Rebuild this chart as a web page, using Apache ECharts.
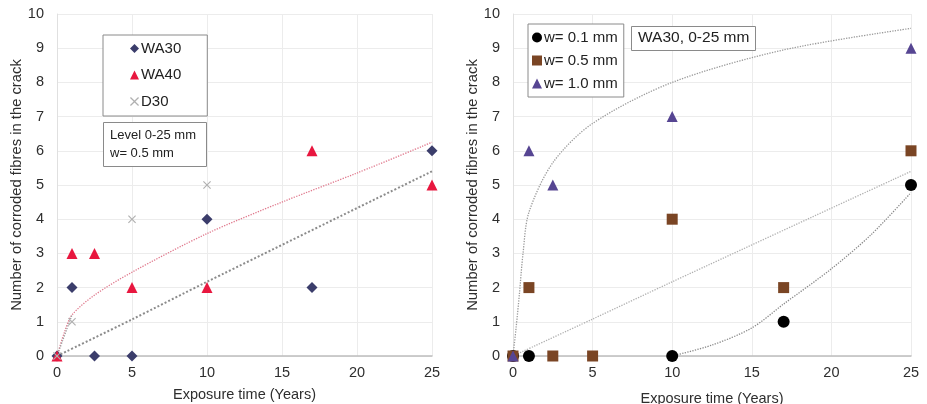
<!DOCTYPE html>
<html>
<head>
<meta charset="utf-8">
<script src="https://cdn.jsdelivr.net/npm/echarts@6/dist/echarts.min.js"></script>
<style>
  html, body { margin: 0; padding: 0; background: #fff; }
  #chart { width: 927px; height: 404px; }
</style>
</head>
<body>
<div id="chart"></div>
<script>
// Exposure years and yAxis ticks
const xTicks = [0, 5, 10, 15, 20, 25];
const yTicks = [0, 1, 2, 3, 4, 5, 6, 7, 8, 9, 10];

// Left panel: level 0-25 mm, crack width 0.5 mm
const wa30 = [[0, 0], [1, 2], [2.5, 0], [5, 0], [10, 4], [17, 2], [25, 6]];
const wa40 = [[0, 0], [1, 3], [2.5, 3], [5, 2], [10, 2], [17, 6], [25, 5]];
const d30 = [[0, 0], [1, 1], [5, 4], [10, 5]];
// Trend curves (left)
const trendWa40 = [[0, 0], [0.5, 0.7], [1, 1.2], [2.5, 1.78], [5, 2.45], [10, 3.58], [15, 4.5], [20, 5.35], [25, 6.25]];
const trendD30 = [[0, 0], [1, 1.2]];
const trendWa30 = [[0, 0], [5, 1.07], [10, 2.17], [25, 5.4]];

// Right panel: WA30, 0-25 mm, three crack widths
const w01 = [[0, 0], [1, 0], [10, 0], [17, 1], [25, 5]];
const w05 = [[0, 0], [1, 2], [2.5, 0], [5, 0], [10, 4], [17, 2], [25, 6]];
const w10 = [[0, 0], [1, 6], [2.5, 5], [10, 7], [25, 9]];
// Trend curves (right)
const trendW10 = [[0, 0], [0.2, 0.85], [0.4, 1.8], [0.63, 3.0], [1, 4.2], [2.5, 5.65], [5, 6.8], [10, 8.0], [17, 8.95], [25, 9.58]];
const trendW05 = [[0, 0], [5, 1.08], [10, 2.17], [25, 5.4]];
const trendW01 = [[10, 0], [12.5, 0.32], [15, 0.82], [17, 1.52], [20, 2.55], [22.5, 3.55], [25, 4.78]];

const FONT = '"Liberation Sans", Arial, sans-serif';
const crossPath = 'path://M1,0 L5,4 L9,0 L10,1 L6,5 L10,9 L9,10 L5,6 L1,10 L0,9 L4,5 L0,1 Z';

function xAxis(gridIndex, gap) {
  return {
    type: 'value', gridIndex, min: 0, max: 25, interval: 5,
    axisLine: { show: true, onZero: false, lineStyle: { color: '#bdbdbd', width: 1.5 } },
    axisTick: { show: false },
    axisLabel: { color: '#2e2e2e', fontFamily: FONT, fontSize: 14.5, margin: 9,
      formatter: v => xTicks.includes(v) ? String(v) : '' },
    splitLine: { show: true, lineStyle: { color: '#ececec', width: 1 } },
    name: 'Exposure time (Years)', nameLocation: 'middle', nameGap: gap,
    nameTextStyle: { color: '#2e2e2e', fontFamily: FONT, fontSize: 14.5 }
  };
}
function yAxis(gridIndex) {
  return {
    type: 'value', gridIndex, min: 0, max: 10, interval: 1,
    axisLine: { show: true, lineStyle: { color: '#e0e0e0', width: 1 } },
    axisTick: { show: false },
    axisLabel: { color: '#2e2e2e', fontFamily: FONT, fontSize: 14.5, margin: 13,
      formatter: v => yTicks.includes(v) ? String(v) : '' },
    splitLine: { show: true, lineStyle: { color: '#ececec', width: 1 } },
    name: 'Number of corroded fibres in the crack', nameLocation: 'middle', nameGap: 33,
    nameTextStyle: { color: '#2e2e2e', fontFamily: FONT, fontSize: 14.8 }
  };
}
function trend(data, xi, color, width) {
  return {
    type: 'line', xAxisIndex: xi, yAxisIndex: xi, data, smooth: 0.3,
    showSymbol: false, silent: true, z: 1,
    lineStyle: { color, width: width || 1.3, type: 'dotted' }
  };
}
function scatter(name, data, xi, symbol, size, color) {
  return {
    name, type: 'scatter', xAxisIndex: xi, yAxisIndex: xi, data,
    symbol, symbolSize: size, z: 3,
    itemStyle: { color, opacity: 1 }
  };
}

const chart = echarts.init(document.getElementById('chart'));
chart.setOption({
  animation: false,
  backgroundColor: '#ffffff',
  grid: [
    { left: 57, right: 495, top: 14, bottom: 48, outerBoundsMode: 'none', containLabel: false },
    { left: 513, right: 16, top: 14, bottom: 48, outerBoundsMode: 'none', containLabel: false }
  ],
  xAxis: [xAxis(0, 31), xAxis(1, 35)],
  yAxis: [yAxis(0), yAxis(1)],
  legend: [
    {
      data: ['WA30', 'WA40', 'D30'], orient: 'vertical',
      left: 103, top: 35,
      padding: [6, 26, 7, 27], itemGap: 11.5, itemWidth: 9, itemHeight: 9,
      backgroundColor: '#ffffff', borderColor: '#8a8a8a', borderWidth: 1, z: 10,
      textStyle: { fontFamily: FONT, fontSize: 15, color: '#222', padding: [0, 0, 0, -3] }
    },
    {
      data: ['w= 0.1 mm', 'w= 0.5 mm', 'w= 1.0 mm'], orient: 'vertical',
      left: 528, top: 24,
      padding: [6, 6, 6, 4], itemGap: 8, itemWidth: 10, itemHeight: 10,
      backgroundColor: '#ffffff', borderColor: '#8a8a8a', borderWidth: 1, z: 10,
      textStyle: { fontFamily: FONT, fontSize: 15, color: '#222', padding: [0, 0, 0, -3] }
    }
  ],
  graphic: [
    {
      type: 'rect', left: 103, top: 122, z: 100, shape: { width: 103, height: 44 },
      style: { fill: '#fff', stroke: '#8a8a8a', lineWidth: 1 }
    },
    {
      type: 'text', left: 110, top: 126, z: 101,
      style: { text: 'Level 0-25 mm\nw= 0.5 mm', fill: '#222', font: '13px ' + FONT, lineHeight: 18 }
    },
    {
      type: 'rect', left: 631, top: 26, z: 100, shape: { width: 124, height: 24 },
      style: { fill: '#fff', stroke: '#8a8a8a', lineWidth: 1 }
    },
    {
      type: 'text', left: 638, top: 30, z: 101,
      style: { text: 'WA30, 0-25 mm', fill: '#222', font: '15.5px ' + FONT }
    }
  ],
  series: [
    trend(trendWa30, 0, '#8c8c8c', 2),
    trend(trendWa40, 0, '#e07a8e', 1.3),
    trend(trendD30, 0, '#a0a0a0', 1.3),
    scatter('WA30', wa30, 0, 'diamond', 11, '#3b3d6b'),
    scatter('WA40', wa40, 0, 'triangle', 11, '#e8173f'),
    scatter('D30', d30, 0, crossPath, 8, '#b0b0b0'),

    trend(trendW10, 1, '#9a9a9a', 1.3),
    trend(trendW05, 1, '#b0b0b0', 1.3),
    trend(trendW01, 1, '#8a8a8a', 1.3),
    scatter('w= 0.1 mm', w01, 1, 'circle', 12, '#000000'),
    scatter('w= 0.5 mm', w05, 1, 'rect', 11, '#7a4524'),
    scatter('w= 1.0 mm', w10, 1, 'triangle', 11, '#564592')
  ]
});
</script>
</body>
</html>
